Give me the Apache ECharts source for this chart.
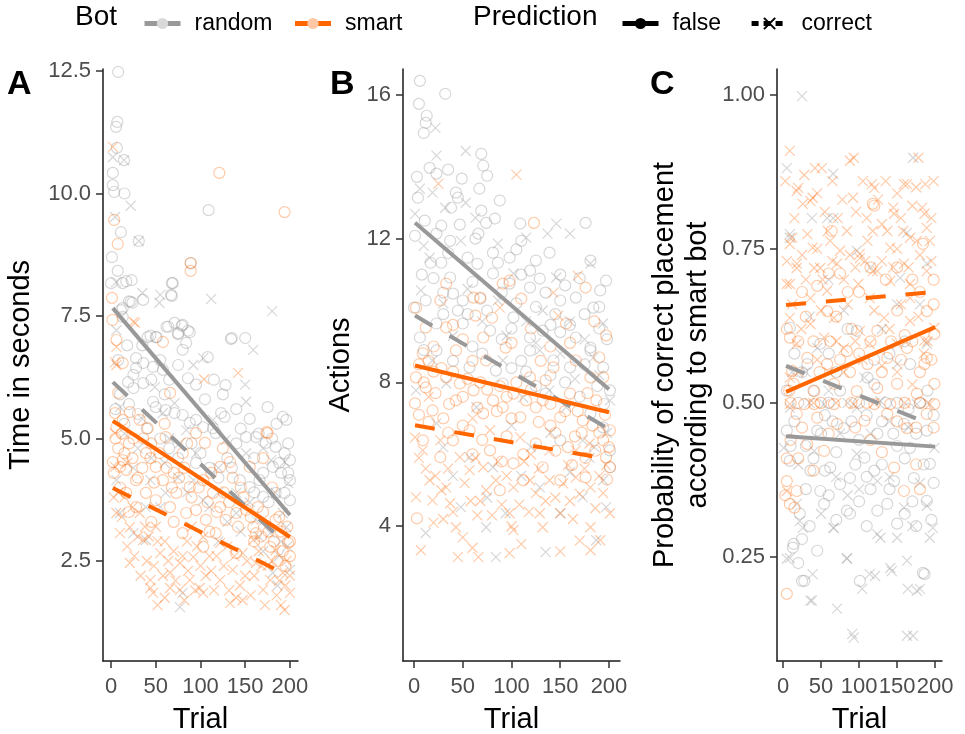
<!DOCTYPE html>
<html>
<head>
<meta charset="utf-8">
<title>Trial effects</title>
<script src="https://cdn.jsdelivr.net/npm/echarts@6/dist/echarts.min.js"></script>
<style>
  html, body { margin: 0; padding: 0; background: #fff; }
  #main { width: 965px; height: 734px; }
</style>
</head>
<body>
<div id="main"></div>
<script type="text/javascript">
// ---- data: [trial, value] ----
// A: time in seconds
const timeRandomFalse = [[8,12.48],[7,11.46],[5.6,11.36],[6.5,10.93],[14.5,10.68],[2,10.42],[2,10.17],[3.5,10.03],[15,10.0],[109,9.66],[11,9.21],[31,9.03],[1,8.7],[89,8.58],[7.5,8.42],[17,8.21],[23,8.23],[68,8.17],[0,8.17],[13,8.17],[69,8.17],[36,7.83],[68,7.91],[20,7.8],[24,7.77],[13,7.66],[67,7.93],[22,7.79],[11,7.62],[13,7.48],[62,7.28],[71,7.36],[79,7.3],[86,7.2],[44,7.1],[51,7.07],[135,7.05],[150,7.05],[75,7.13],[80,7.32],[64,7.28],[75,7.15],[88,7.17],[41,7.07],[50,7.07],[134,7.03],[84,6.95],[80,6.81],[28,6.64],[36,6.54],[47,6.46],[58,6.4],[28,6.44],[108,6.66],[86,6.23],[128,6.09],[19,6.15],[25,6.03],[36,6.13],[175,5.64],[192,5.44],[196,5.38],[47,5.75],[50,5.64],[61,5.58],[71,5.52],[80,5.48],[88,5.32],[95,5.38],[103,5.23],[114,5.21],[123,5.52],[127,5.44],[117,5.11],[151,5.03],[162,5.03],[173,4.91],[184,4.83],[194,4.7],[200,4.56],[181,4.42],[190,4.3],[200,4.15],[194,3.89],[200,3.74],[184,3.89],[170,3.81],[155,4.01],[144,4.15],[166,4.15],[10,5.9],[20,5.7],[30,5.5],[40,5.2],[15,5.3],[5,5.6],[55,5.0],[65,4.8],[100,4.7],[130,4.6],[140,4.9],[110,4.4],[160,4.6],[170,4.3],[188,4.5],[120,4.2],[95,4.5],[75,4.6],[35,6.9],[45,6.2],[55,6.6],[65,6.2],[75,6.5],[95,6.1],[105,5.8],[115,6.2],[125,5.9],[140,5.6],[145,5.2],[155,5.4],[165,5.1],[180,5.0],[185,5.3],[198,4.9],[198,4.3],[176,3.7],[160,3.9],[135,4.4],[90,4.9],[60,5.9],[25,6.3],[18,6.9],[8,6.6]];
const timeRandomCorrect = [[2,10.74],[14.5,10.68],[22,9.75],[4.5,9.52],[31,9.03],[5.6,8.19],[35,7.97],[55,7.93],[54,7.77],[112,7.85],[180,7.6],[159,6.81],[151,5.75],[6,7.21],[10,5.64],[49,6.05],[58,5.52],[71,5.72],[84,5.17],[77,4.91],[114,5.38],[128,4.97],[151,4.7],[44,4.15],[61,3.89],[39,3.6],[92,4.15],[103,3.74],[140,3.89],[140,3.48],[162,3.34],[178,3.07],[196,3.19],[200,2.32],[181,2.26],[39,2.93],[77,1.56],[80,1.85],[25,3.07],[10,3.48],[6,4.15],[92,6.5],[103,6.64],[179,4.56],[194,4.52],[184,3.89],[192,3.48],[198,4.09],[150,6.1],[120,4.4],[170,4.8],[190,2.9],[60,4.5],[30,4.8],[15,5.1],[35,5.4],[45,4.6],[65,5.0],[75,4.2],[85,3.9],[95,4.7],[110,3.6],[120,3.9],[130,3.3],[145,3.1],[155,3.7],[165,3.0],[170,2.7],[188,2.6],[197,2.8],[186,2.0],[120,2.9],[55,3.6],[25,4.4]];
const timeSmartFalse = [[121,10.42],[194,9.62],[3.5,9.46],[7.5,8.97],[89,8.58],[89,8.42],[1,7.87],[1.5,7.42],[58,6.97],[6,7.01],[13,6.54],[8,5.93],[66,5.93],[4.5,5.52],[13,5.38],[6,5.23],[32,5.38],[21,5.54],[41,5.21],[61,5.03],[95,5.11],[80,4.7],[105,4.91],[133,4.52],[175,5.11],[155,4.42],[122,4.42],[2,4.52],[10,4.42],[17,4.36],[13,4.56],[39,4.7],[50,4.42],[28,4.15],[58,4.15],[39,3.89],[73,3.89],[88,4.01],[103,4.15],[114,3.89],[95,3.54],[122,3.6],[140,3.48],[159,3.19],[184,3.34],[198,2.87],[178,2.79],[162,3.07],[151,3.54],[128,3.34],[106,3.34],[84,3.48],[66,3.6],[50,3.74],[28,3.6],[17,3.89],[80,3.07],[103,2.79],[117,3.07],[140,2.66],[200,2.6],[195,2.4],[190,3.1],[170,3.5],[180,4.0],[145,4.0],[25,5.0],[45,4.9],[70,4.3],[35,4.4],[174,5.13],[5,5.0],[8,4.8],[12,5.1],[20,4.9],[24,4.6],[30,4.2],[36,5.0],[44,4.6],[48,4.1],[54,4.7],[62,4.4],[68,4.0],[76,4.2],[82,4.4],[90,3.8],[98,4.0],[108,3.7],[112,4.3],[118,3.5],[126,3.9],[132,3.7],[136,4.2],[142,3.2],[148,3.8],[156,3.4],[164,3.6],[168,3.0],[176,3.1],[182,2.9],[188,3.4],[192,2.7],[197,3.2],[200,2.9],[186,2.5],[160,2.9],[110,3.1],[70,3.3],[45,3.3],[20,3.5],[10,4.0],[3,4.3],[15,4.7],[60,5.3],[85,4.9],[125,4.8],[170,4.6]];
const timeSmartCorrect = [[2,10.95],[25,7.38],[27,7.36],[142,6.34],[104,6.21],[4.5,6.56],[6,6.87],[6,6.5],[4.5,5.11],[4.5,4.42],[18,4.5],[6,3.48],[21,3.19],[10,3.07],[36,2.93],[21,2.46],[44,2.11],[47,1.85],[66,2.26],[77,2.46],[92,2.58],[103,1.85],[122,2.11],[136,2.32],[147,2.66],[162,2.46],[178,2.11],[192,2.26],[200,1.85],[194,1.5],[170,1.91],[147,1.7],[133,1.64],[88,2.11],[77,1.91],[55,2.66],[103,2.99],[122,2.87],[159,2.93],[184,2.72],[32,3.48],[15,3.8],[30,3.0],[50,3.2],[60,2.9],[70,2.7],[85,2.9],[100,2.4],[110,2.6],[130,2.8],[150,2.2],[165,2.7],[185,1.8],[195,2.0],[60,1.75],[40,2.5],[115,1.9],[90,3.2],[175,2.4],[44,1.95],[66,1.95],[99,1.95],[3,3.8],[12,3.4],[18,2.8],[26,2.6],[33,2.2],[38,3.2],[48,2.4],[52,2.9],[58,2.2],[64,2.5],[72,2.1],[80,2.6],[86,2.3],[94,1.9],[96,2.8],[106,2.2],[112,2.3],[118,2.6],[126,2.4],[132,1.9],[138,2.6],[144,2.0],[152,2.5],[156,1.8],[160,2.2],[168,2.4],[172,1.6],[180,2.5],[188,2.1],[196,2.5],[200,2.2],[190,1.6],[140,1.75],[82,1.7],[52,1.6],[8,3.9],[24,3.6],[42,3.0]];
// B: actions
const actRandomFalse = [[6,16.39],[32,16.03],[5,15.75],[13,15.42],[12,15.22],[10,14.94],[69,14.36],[71,14.03],[16,13.97],[35,13.92],[3,13.72],[23,13.81],[49,13.67],[75,13.75],[67,13.39],[4,13.14],[43,13.28],[45,13.14],[88,13.06],[38,12.86],[69,12.78],[83,12.56],[74,12.44],[11,12.5],[28,12.36],[47,12.39],[109,12.42],[176,12.44],[1,12.08],[23,12.14],[37,11.94],[63,12.0],[66,12.14],[110,11.94],[139,11.61],[17,11.33],[28,11.33],[55,11.47],[81,11.61],[86,11.33],[98,11.47],[119,11.11],[125,11.39],[181,11.39],[197,10.83],[191,10.56],[37,10.92],[40,10.47],[50,10.28],[68,10.33],[81,11.03],[98,10.75],[119,10.64],[129,10.89],[150,10.28],[166,10.36],[184,10.08],[0,10.08],[12,10.28],[102,9.81],[119,9.25],[132,9.44],[166,9.25],[50,9.64],[23,9.64],[78,9.44],[181,8.89],[6,9.25],[119,8.89],[143,8.61],[181,8.97],[194,8.42],[160,8.42],[201,7.78],[194,6.75],[201,6.11],[201,5.64],[135,7.69],[84,8.33],[57,8.42],[23,8.89],[91,7.97],[181,7.14],[150,6.39],[145,9.9],[160,9.6],[90,9.2],[60,9.0],[30,9.9],[110,8.6],[170,7.6],[190,9.5],[20,10.9],[45,10.0],[60,10.8],[75,10.0],[90,10.5],[105,10.2],[110,11.0],[125,10.1],[135,10.5],[140,9.6],[155,10.7],[170,10.9],[175,9.9],[190,10.1],[198,9.2],[195,7.4],[188,7.9],[175,8.5],[155,8.0],[140,8.2],[125,7.9],[115,8.3],[100,8.4],[70,8.8],[40,8.6],[10,8.9],[30,10.5],[55,9.9],[150,9.4],[100,9.5],[65,11.3],[105,11.7],[150,11.0],[35,11.6],[8,11.0]];
const actRandomCorrect = [[22,15.08],[23,14.31],[53,14.44],[6,13.39],[19,13.28],[32,12.86],[53,13.0],[63,12.58],[1,12.69],[146,12.42],[160,12.14],[137,12.14],[115,12.03],[48,11.94],[86,11.86],[16,11.47],[146,10.92],[181,11.31],[194,9.64],[7,10.56],[102,11.03],[86,10.28],[132,10.0],[12,3.81],[74,3.97],[84,3.14],[135,3.28],[187,3.61],[94,4.36],[150,4.36],[173,4.81],[48,4.53],[197,4.53],[57,5.92],[81,5.64],[129,5.08],[194,5.28],[33,7.97],[64,7.31],[112,7.58],[139,7.78],[156,7.31],[173,6.39],[201,7.5],[23,6.86],[91,8.61],[129,8.89],[184,8.69],[2,7.78],[19,8.61],[160,9.7],[100,6.8],[40,9.3],[180,5.9],[120,6.2],[10,11.8],[30,10.2],[55,10.6],[70,9.7],[95,9.3],[115,9.7],[125,9.1],[150,8.8],[165,8.1],[175,9.2],[190,8.2],[198,6.6],[185,6.2],[160,5.5],[140,6.6],[110,5.4],[75,4.8],[40,5.4],[30,6.2]];
const actSmartFalse = [[123,12.44],[91,10.75],[98,10.83],[68,10.36],[61,10.36],[33,10.75],[27,10.28],[2,10.08],[176,10.64],[110,10.33],[156,9.64],[63,9.86],[33,9.53],[12,9.53],[197,9.31],[71,9.25],[94,8.97],[2,8.14],[12,7.86],[1,7.42],[19,7.22],[33,8.14],[47,7.97],[43,7.5],[61,7.78],[71,7.14],[81,7.5],[91,7.31],[102,7.69],[109,7.03],[125,7.31],[135,8.06],[150,7.03],[160,7.69],[173,6.94],[187,7.5],[201,6.67],[194,6.39],[40,6.39],[27,5.92],[9,6.39],[57,6.67],[78,6.11],[102,5.75],[132,5.64],[150,5.28],[176,5.36],[197,5.92],[201,5.64],[112,5.28],[88,5.0],[3,4.22],[119,8.14],[143,8.42],[74,8.61],[43,8.89],[9,8.81],[181,8.14],[194,8.14],[166,8.61],[20,9.0],[50,9.2],[120,9.5],[140,9.0],[185,9.7],[60,6.0],[30,7.0],[165,6.5],[140,6.8],[95,6.5],[5,8.5],[10,8.0],[15,8.6],[22,7.7],[28,8.4],[36,7.4],[40,8.3],[50,7.6],[55,8.1],[65,7.3],[68,8.0],[75,7.8],[85,7.2],[88,7.9],[95,7.6],[100,7.0],[105,8.0],[115,7.5],[120,7.8],[128,6.9],[132,7.5],[140,7.4],[145,6.6],[155,7.2],[158,6.2],[168,7.2],[172,6.6],[178,7.7],[183,6.8],[190,6.6],[196,7.1],[200,6.2],[198,5.3],[186,6.1],[176,5.9],[162,5.7],[145,6.1],[125,6.3],[112,6.0],[90,5.8],[70,6.4],[50,6.8],[35,6.6],[15,6.9],[5,7.1],[40,9.6],[80,9.8],[100,9.1],[130,8.6],[160,9.1],[190,8.7],[20,8.3],[60,8.6]];
const actSmartCorrect = [[105,13.78],[25,13.53],[168,10.97],[143,10.5],[88,10.08],[148,9.86],[1,6.47],[27,6.39],[9,6.11],[47,5.92],[57,5.56],[71,5.64],[84,5.28],[102,5.08],[125,4.92],[139,5.28],[153,5.19],[166,5.36],[181,5.08],[194,4.92],[201,4.36],[2,4.81],[19,4.72],[37,4.64],[43,3.97],[50,3.69],[45,3.14],[66,3.14],[98,3.25],[102,3.89],[132,3.97],[129,4.36],[150,4.36],[181,3.97],[181,3.33],[191,3.61],[7,3.33],[98,4.36],[74,5.0],[33,5.08],[16,5.28],[119,5.28],[139,6.11],[166,6.11],[78,6.67],[109,6.47],[60,7.0],[15,7.6],[120,6.0],[180,6.3],[30,4.2],[160,4.7],[90,4.6],[65,4.3],[5,5.9],[12,5.6],[22,5.4],[28,5.0],[35,5.6],[40,4.4],[52,5.2],[58,4.7],[63,5.9],[68,4.7],[80,4.3],[86,5.8],[95,5.4],[108,4.6],[113,5.8],[118,4.4],[128,5.6],[135,4.7],[145,4.8],[158,5.7],[163,4.2],[170,4.9],[175,5.6],[186,4.5],[190,5.4],[197,5.7],[170,3.6],[110,3.5],[60,3.4],[20,4.1],[150,3.3],[100,4.0]];
// C: probability of correct placement according to smart bot
const probRandomFalse = [[9,0.622],[49,0.596],[97,0.617],[32,0.563],[111,0.541],[167,0.563],[5,0.455],[45,0.455],[80,0.459],[124,0.45],[159,0.466],[189,0.455],[9,0.406],[36,0.39],[62,0.395],[88,0.378],[120,0.39],[146,0.373],[172,0.378],[193,0.401],[22,0.32],[54,0.336],[84,0.325],[124,0.325],[150,0.304],[189,0.341],[14,0.271],[186,0.222],[101,0.211],[28,0.211],[75,0.368],[107,0.411],[167,0.427],[137,0.336],[49,0.357],[25,0.211],[184,0.224],[13,0.265],[25,0.279],[88,0.32],[20,0.5],[60,0.5],[100,0.5],[150,0.5],[180,0.5],[70,0.55],[140,0.58],[30,0.43],[100,0.44],[160,0.41],[55,0.48],[130,0.47],[190,0.52],[15,0.58],[115,0.36],[175,0.3],[5,0.52],[15,0.47],[25,0.55],[40,0.52],[50,0.45],[65,0.47],[75,0.52],[90,0.47],[110,0.48],[120,0.53],[135,0.5],[145,0.45],[165,0.49],[175,0.45],[198,0.48],[10,0.43],[40,0.41],[55,0.39],[70,0.42],[95,0.4],[110,0.38],[130,0.4],[150,0.43],[185,0.4],[198,0.37],[30,0.36],[60,0.35],[100,0.34],[140,0.36],[170,0.34],[35,0.3],[70,0.31],[110,0.3],[160,0.32],[195,0.31],[45,0.26],[20,0.24],[85,0.62],[160,0.6],[60,0.58],[120,0.57]];
const probRandomCorrect = [[25,0.998],[5,0.881],[66,0.872],[171,0.898],[38,0.8],[66,0.8],[163,0.776],[9,0.768],[97,0.747],[189,0.726],[5,0.247],[39,0.222],[38,0.179],[71,0.166],[84,0.247],[91,0.125],[104,0.198],[121,0.219],[143,0.227],[163,0.244],[164,0.198],[180,0.198],[163,0.122],[171,0.122],[26,0.297],[66,0.297],[128,0.281],[150,0.281],[197,0.297],[193,0.281],[189,0.333],[22,0.308],[9,0.774],[58,0.8],[154,0.703],[189,0.596],[45,0.589],[107,0.541],[150,0.563],[9,0.492],[54,0.498],[97,0.492],[128,0.503],[176,0.498],[199,0.427],[1,0.427],[41,0.422],[97,0.417],[124,0.373],[159,0.33],[67,0.297],[18,0.336],[124,0.287],[9,0.248],[84,0.248],[36,0.179],[93,0.119],[114,0.222],[141,0.232],[176,0.195],[30,0.55],[80,0.65],[130,0.62],[180,0.66],[12,0.55],[35,0.5],[60,0.52],[75,0.45],[85,0.5],[115,0.45],[140,0.47],[165,0.46],[190,0.5],[20,0.4],[70,0.38],[100,0.36],[140,0.38],[180,0.37],[50,0.32],[85,0.35],[170,0.3],[115,0.72],[60,0.7],[150,0.66],[35,0.64]];
const probSmartFalse = [[120,0.82],[64,0.779],[118,0.823],[184,0.758],[9,0.606],[32,0.573],[58,0.563],[84,0.584],[111,0.563],[137,0.573],[163,0.589],[189,0.573],[199,0.612],[14,0.531],[41,0.519],[67,0.531],[97,0.519],[124,0.524],[150,0.531],[176,0.515],[199,0.531],[18,0.482],[45,0.476],[71,0.466],[107,0.471],[137,0.482],[163,0.459],[189,0.482],[32,0.433],[54,0.422],[146,0.395],[159,0.357],[5,0.373],[18,0.357],[9,0.336],[5,0.19],[12,0.552],[186,0.563],[124,0.617],[58,0.649],[189,0.649],[28,0.498],[41,0.498],[67,0.498],[120,0.498],[141,0.498],[199,0.498],[90,0.62],[150,0.65],[30,0.64],[100,0.68],[170,0.7],[75,0.71],[45,0.69],[160,0.61],[135,0.7],[10,0.44],[3,0.35],[5,0.62],[20,0.6],[40,0.6],[48,0.55],[62,0.6],[75,0.57],[88,0.55],[100,0.58],[115,0.6],[130,0.55],[142,0.6],[155,0.57],[170,0.6],[180,0.55],[195,0.57],[10,0.5],[50,0.5],[90,0.5],[110,0.5],[160,0.5],[180,0.5],[25,0.46],[60,0.45],[95,0.46],[115,0.44],[150,0.47],[175,0.46],[198,0.46],[5,0.41],[20,0.41],[15,0.33],[40,0.39],[130,0.42],[175,0.4],[180,0.36],[25,0.68],[60,0.71],[85,0.68],[115,0.72],[150,0.72],[180,0.68],[198,0.7],[198,0.66],[8,0.52],[70,0.64]];
const probSmartCorrect = [[9,0.909],[42,0.881],[51,0.881],[88,0.893],[178,0.898],[20,0.849],[117,0.855],[163,0.855],[187,0.855],[39,0.833],[92,0.833],[145,0.817],[183,0.817],[26,0.823],[59,0.779],[84,0.779],[118,0.779],[158,0.779],[189,0.784],[12,0.768],[39,0.752],[75,0.747],[101,0.742],[141,0.752],[176,0.763],[18,0.719],[49,0.719],[118,0.714],[167,0.693],[189,0.714],[5,0.693],[58,0.682],[99,0.693],[93,0.898],[18,0.844],[36,0.828],[120,0.849],[159,0.855],[146,0.807],[186,0.807],[9,0.758],[32,0.774],[62,0.763],[111,0.763],[137,0.779],[167,0.768],[193,0.763],[18,0.726],[41,0.719],[71,0.726],[101,0.735],[124,0.714],[159,0.726],[9,0.693],[141,0.698],[9,0.638],[36,0.628],[67,0.638],[101,0.617],[133,0.638],[167,0.633],[199,0.622],[18,0.596],[54,0.606],[80,0.589],[114,0.596],[150,0.596],[186,0.601],[9,0.541],[9,0.498],[93,0.498],[193,0.498],[5,0.357],[36,0.67],[114,0.67],[167,0.67],[60,0.55],[130,0.56],[170,0.53],[3,0.86],[15,0.8],[28,0.87],[45,0.84],[55,0.81],[65,0.86],[72,0.8],[78,0.83],[96,0.81],[105,0.86],[110,0.8],[125,0.83],[130,0.79],[135,0.86],[150,0.84],[155,0.8],[170,0.82],[175,0.85],[195,0.8],[198,0.86],[5,0.73],[25,0.74],[30,0.7],[45,0.75],[52,0.7],[65,0.73],[80,0.7],[88,0.74],[95,0.72],[108,0.73],[130,0.73],[145,0.72],[150,0.75],[165,0.72],[180,0.74],[195,0.73],[12,0.66],[24,0.62],[50,0.65],[70,0.6],[85,0.66],[95,0.6],[120,0.65],[140,0.62],[155,0.66],[178,0.64],[190,0.6],[20,0.55],[45,0.57],[80,0.55],[105,0.57],[150,0.55],[185,0.58],[40,0.5],[70,0.5],[120,0.5],[160,0.5]];

// fitted lines (start, end)
const timeFitRandomFalse = [[2,7.66],[200,3.44]];
const timeFitRandomCorrect = [[2,6.15],[185,3.03]];
const timeFitSmartFalse = [[2,5.36],[200,2.99]];
const timeFitSmartCorrect = [[2,3.99],[183,2.34]];
const actFitRandomFalse = [[1,12.44],[200,7.81]];
const actFitRandomCorrect = [[1,9.86],[197,6.75]];
const actFitSmartFalse = [[1,8.47],[200,7.17]];
const actFitSmartCorrect = [[1,6.81],[184,5.94]];
const probFitRandomFalse = [[4,0.446],[200,0.429]];
const probFitRandomCorrect = [[4,0.56],[176,0.474]];
const probFitSmartFalse = [[4,0.518],[200,0.623]];
const probFitSmartCorrect = [[4,0.659],[188,0.679]];

const trialTicks = [0, 50, 100, 150, 200];
const timeTicks = [2.5, 5, 7.5, 10, 12.5];
const actTicks = [4, 8, 12, 16];
const probTicks = [0.25, 0.5, 0.75, 1.0];

// ---- styling ----
const FONT = '"Liberation Sans", Arial, sans-serif';
const GREY = '#999999', ORANGE = '#FF6600';
const PT_GREY = 'rgba(150,150,150,0.38)', PT_ORANGE = 'rgba(255,102,0,0.34)';
const CROSS = 'path://M0,0L10,10M10,0L0,10';
const DASH = [20, 20];

const panels = [
  { letter: 'A', grid: { left: 103, top: 69, width: 195, height: 592 }, xr: [-9, 209], yr: [0.46, 12.54],
    yTicks: timeTicks, digits: 1, yName: 'Time in seconds', yGap: 66,
    pts: [timeRandomFalse, timeRandomCorrect, timeSmartFalse, timeSmartCorrect],
    fits: [timeFitRandomFalse, timeFitRandomCorrect, timeFitSmartFalse, timeFitSmartCorrect] },
  { letter: 'B', grid: { left: 403, top: 69, width: 217, height: 592 }, xr: [-11.3, 211.3], yr: [0.25, 16.72],
    yTicks: actTicks, digits: 0, yName: 'Actions', yGap: 46,
    pts: [actRandomFalse, actRandomCorrect, actSmartFalse, actSmartCorrect],
    fits: [actFitRandomFalse, actFitRandomCorrect, actFitSmartFalse, actFitSmartCorrect] },
  { letter: 'C', grid: { left: 777, top: 69, width: 165, height: 592 }, xr: [-7.9, 209], yr: [0.081, 1.042],
    yTicks: probTicks, digits: 2, yName: 'Probability of correct placement\naccording to smart bot', yGap: 63,
    pts: [probRandomFalse, probRandomCorrect, probSmartFalse, probSmartCorrect],
    fits: [probFitRandomFalse, probFitRandomCorrect, probFitSmartFalse, probFitSmartCorrect] }
];

const axisLine = { show: true, onZero: false, lineStyle: { color: '#1a1a1a', width: 1.5 } };
const grids = [], xAxes = [], yAxes = [], series = [], graphics = [];

panels.forEach(function (p, i) {
  grids.push(Object.assign({ outerBoundsMode: 'none', containLabel: false }, p.grid));
  xAxes.push({
    type: 'value', gridIndex: i, min: p.xr[0], max: p.xr[1],
    axisLine: axisLine,
    axisTick: { show: true, length: 7, customValues: trialTicks, lineStyle: { color: '#333', width: 1.5 } },
    axisLabel: { customValues: trialTicks, fontSize: 22, color: '#4D4D4D', margin: 15, fontFamily: FONT },
    splitLine: { show: false },
    name: 'Trial', nameLocation: 'middle', nameGap: 44,
    nameTextStyle: { fontSize: 29, color: '#000', fontFamily: FONT }
  });
  yAxes.push({
    type: 'value', gridIndex: i, min: p.yr[0], max: p.yr[1],
    axisLine: axisLine,
    axisTick: { show: true, length: 7, customValues: p.yTicks, lineStyle: { color: '#333', width: 1.5 } },
    axisLabel: { customValues: p.yTicks, fontSize: 22, color: '#4D4D4D', margin: 12, fontFamily: FONT,
      formatter: function (v) { return v.toFixed(p.digits); } },
    splitLine: { show: false },
    name: p.yName, nameLocation: 'middle', nameGap: p.yGap,
    nameTextStyle: { fontSize: 29, color: '#000', fontFamily: FONT, lineHeight: 33 }
  });

  // points: random false, random correct, smart false, smart correct
  p.pts.forEach(function (d, k) {
    const col = k < 2 ? PT_GREY : PT_ORANGE;
    const isCross = k % 2 === 1;
    series.push({
      type: 'scatter', xAxisIndex: i, yAxisIndex: i, data: d, silent: true,
      symbol: isCross ? CROSS : 'circle', symbolSize: isCross ? 10 : 11,
      itemStyle: { color: 'rgba(0,0,0,0)', borderColor: col, borderWidth: 1.2, opacity: 1 }
    });
  });
  // fitted lines on top
  p.fits.forEach(function (d, k) {
    series.push({
      type: 'line', xAxisIndex: i, yAxisIndex: i, data: d, silent: true,
      showSymbol: false, symbol: 'none', z: 5,
      lineStyle: { color: k < 2 ? GREY : ORANGE, width: 4, type: k % 2 === 1 ? DASH : 'solid', cap: 'butt' }
    });
  });

  graphics.push({
    type: 'text', left: [7, 330, 650][i], top: 68,
    style: { text: p.letter, font: 'bold 34px ' + FONT, fill: '#000' }
  });
});

// legend-only series
series.push(
  { name: 'random', type: 'line', data: [], color: GREY, symbol: 'circle', symbolSize: 9,
    lineStyle: { color: GREY, width: 5 }, itemStyle: { color: '#d9d9d9' } },
  { name: 'smart', type: 'line', data: [], color: ORANGE, symbol: 'circle', symbolSize: 9,
    lineStyle: { color: ORANGE, width: 5 }, itemStyle: { color: '#ffc7a3' } },
  { name: 'false', type: 'line', data: [], color: '#000', symbol: 'circle', symbolSize: 9,
    lineStyle: { color: '#000', width: 5 }, itemStyle: { color: '#000' } },
  { name: 'correct', type: 'line', data: [], color: '#000', symbol: CROSS, symbolSize: 9,
    lineStyle: { color: '#000', width: 5, type: [7, 5] }, itemStyle: { color: 'rgba(0,0,0,0)', borderColor: '#000', borderWidth: 1.5 } }
);

graphics.push(
  { type: 'text', left: 75, top: 3, style: { text: 'Bot', font: '28px ' + FONT, fill: '#000' } },
  { type: 'text', left: 473, top: 3, style: { text: 'Prediction', font: '28px ' + FONT, fill: '#000' } }
);

const legendText = { fontSize: 23, color: '#000', fontFamily: FONT, padding: [0, 0, 0, 9] };
const legendLine = { width: 5 };
const chart = echarts.init(document.getElementById('main'), null, { renderer: 'canvas' });
chart.setOption({
  animation: false,
  textStyle: { fontFamily: FONT },
  grid: grids,
  xAxis: xAxes,
  yAxis: yAxes,
  legend: [
    { data: ['random', 'smart'], left: 137, top: 7, itemWidth: 36, itemHeight: 14, itemGap: 20,
      textStyle: legendText, lineStyle: legendLine },
    { data: ['false', 'correct'], left: 615, top: 7, itemWidth: 36, itemHeight: 14, itemGap: 28,
      textStyle: legendText, lineStyle: legendLine }
  ],
  graphic: graphics,
  series: series
});
</script>
</body>
</html>
